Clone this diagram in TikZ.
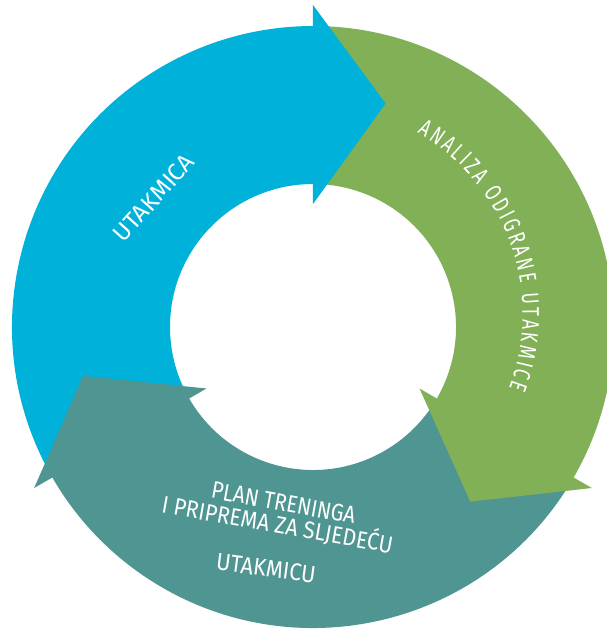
\documentclass[tikz,border=0pt]{standalone}
\usepackage{fontspec}
\usepackage{graphicx}
\setmainfont[FakeStretch=0.72]{Fira Sans}
\usetikzlibrary{decorations.text}
\definecolor{cblue}{RGB}{0,177,218}
\definecolor{cgreen}{RGB}{129,176,86}
\definecolor{cteal}{RGB}{79,149,146}
\newcommand\ringfont{\fontsize{24pt}{27pt}\selectfont}
\newcommand\fitw[2]{\resizebox{#1}{\height}{#2}}
\tikzset{
  ringtext/.style={font=\ringfont, decorate, decoration={text along path, text align={fit to path}, text color=white, text={|\ringfont|#1}}},
  lbl/.style={font=\ringfont, text=white, inner sep=0pt, anchor=base}
}
\begin{document}
\ringfont
\begin{tikzpicture}[x=1pt,y=1pt]
\useasboundingbox (-313,-303) rectangle (294,327);
% bands
\fill[cblue] (209.5:301pt) arc[start angle=209.5,end angle=89.5,radius=301pt] -- (89.5:143pt) arc[start angle=89.5,end angle=209.5,radius=143pt] -- cycle;
\fill[cgreen] (89.5:301pt) arc[start angle=89.5,end angle=-30.5,radius=301pt] -- (-30.5:143pt) arc[start angle=-30.5,end angle=89.5,radius=143pt] -- cycle;
\fill[cteal] (-30.5:301pt) arc[start angle=-30.5,end angle=-150.5,radius=301pt] -- (-150.5:143pt) arc[start angle=-150.5,end angle=-30.5,radius=143pt] -- cycle;
% heads
\fill[cblue] (90:322pt) -- (72:235pt) -- (90:123pt) -- cycle;
\fill[cgreen] (-30:322pt) -- (-48:235pt) -- (-30:123pt) -- cycle;
\fill[cteal] (210:322pt) -- (192:235pt) -- (210:123pt) -- cycle;
% texts
\node[lbl, rotate=48] (t1) at (-153.1,123.6) {\fitw{108pt}{UTAKMICA}};
\path[shift={(0,13)}, ringtext={ANALIZA ODIGRANE UTAKMICE}] (60:209.5pt) arc[start angle=60,end angle=-20.7,radius=209.5pt];
\node[lbl, rotate=-10.3] (t3a) at (-30.9,-184) {\fitw{146pt}{PLAN TRENINGA}};
\node[lbl, rotate=-10.1] (t3b) at (-37,-206) {\fitw{234pt}{I PRIPREMA ZA SLJEDEĆU}};
\node[lbl, rotate=-7.6] (t3c) at (-48,-249.6) {\fitw{100pt}{UTAKMICU}};
\end{tikzpicture}
\end{document}
